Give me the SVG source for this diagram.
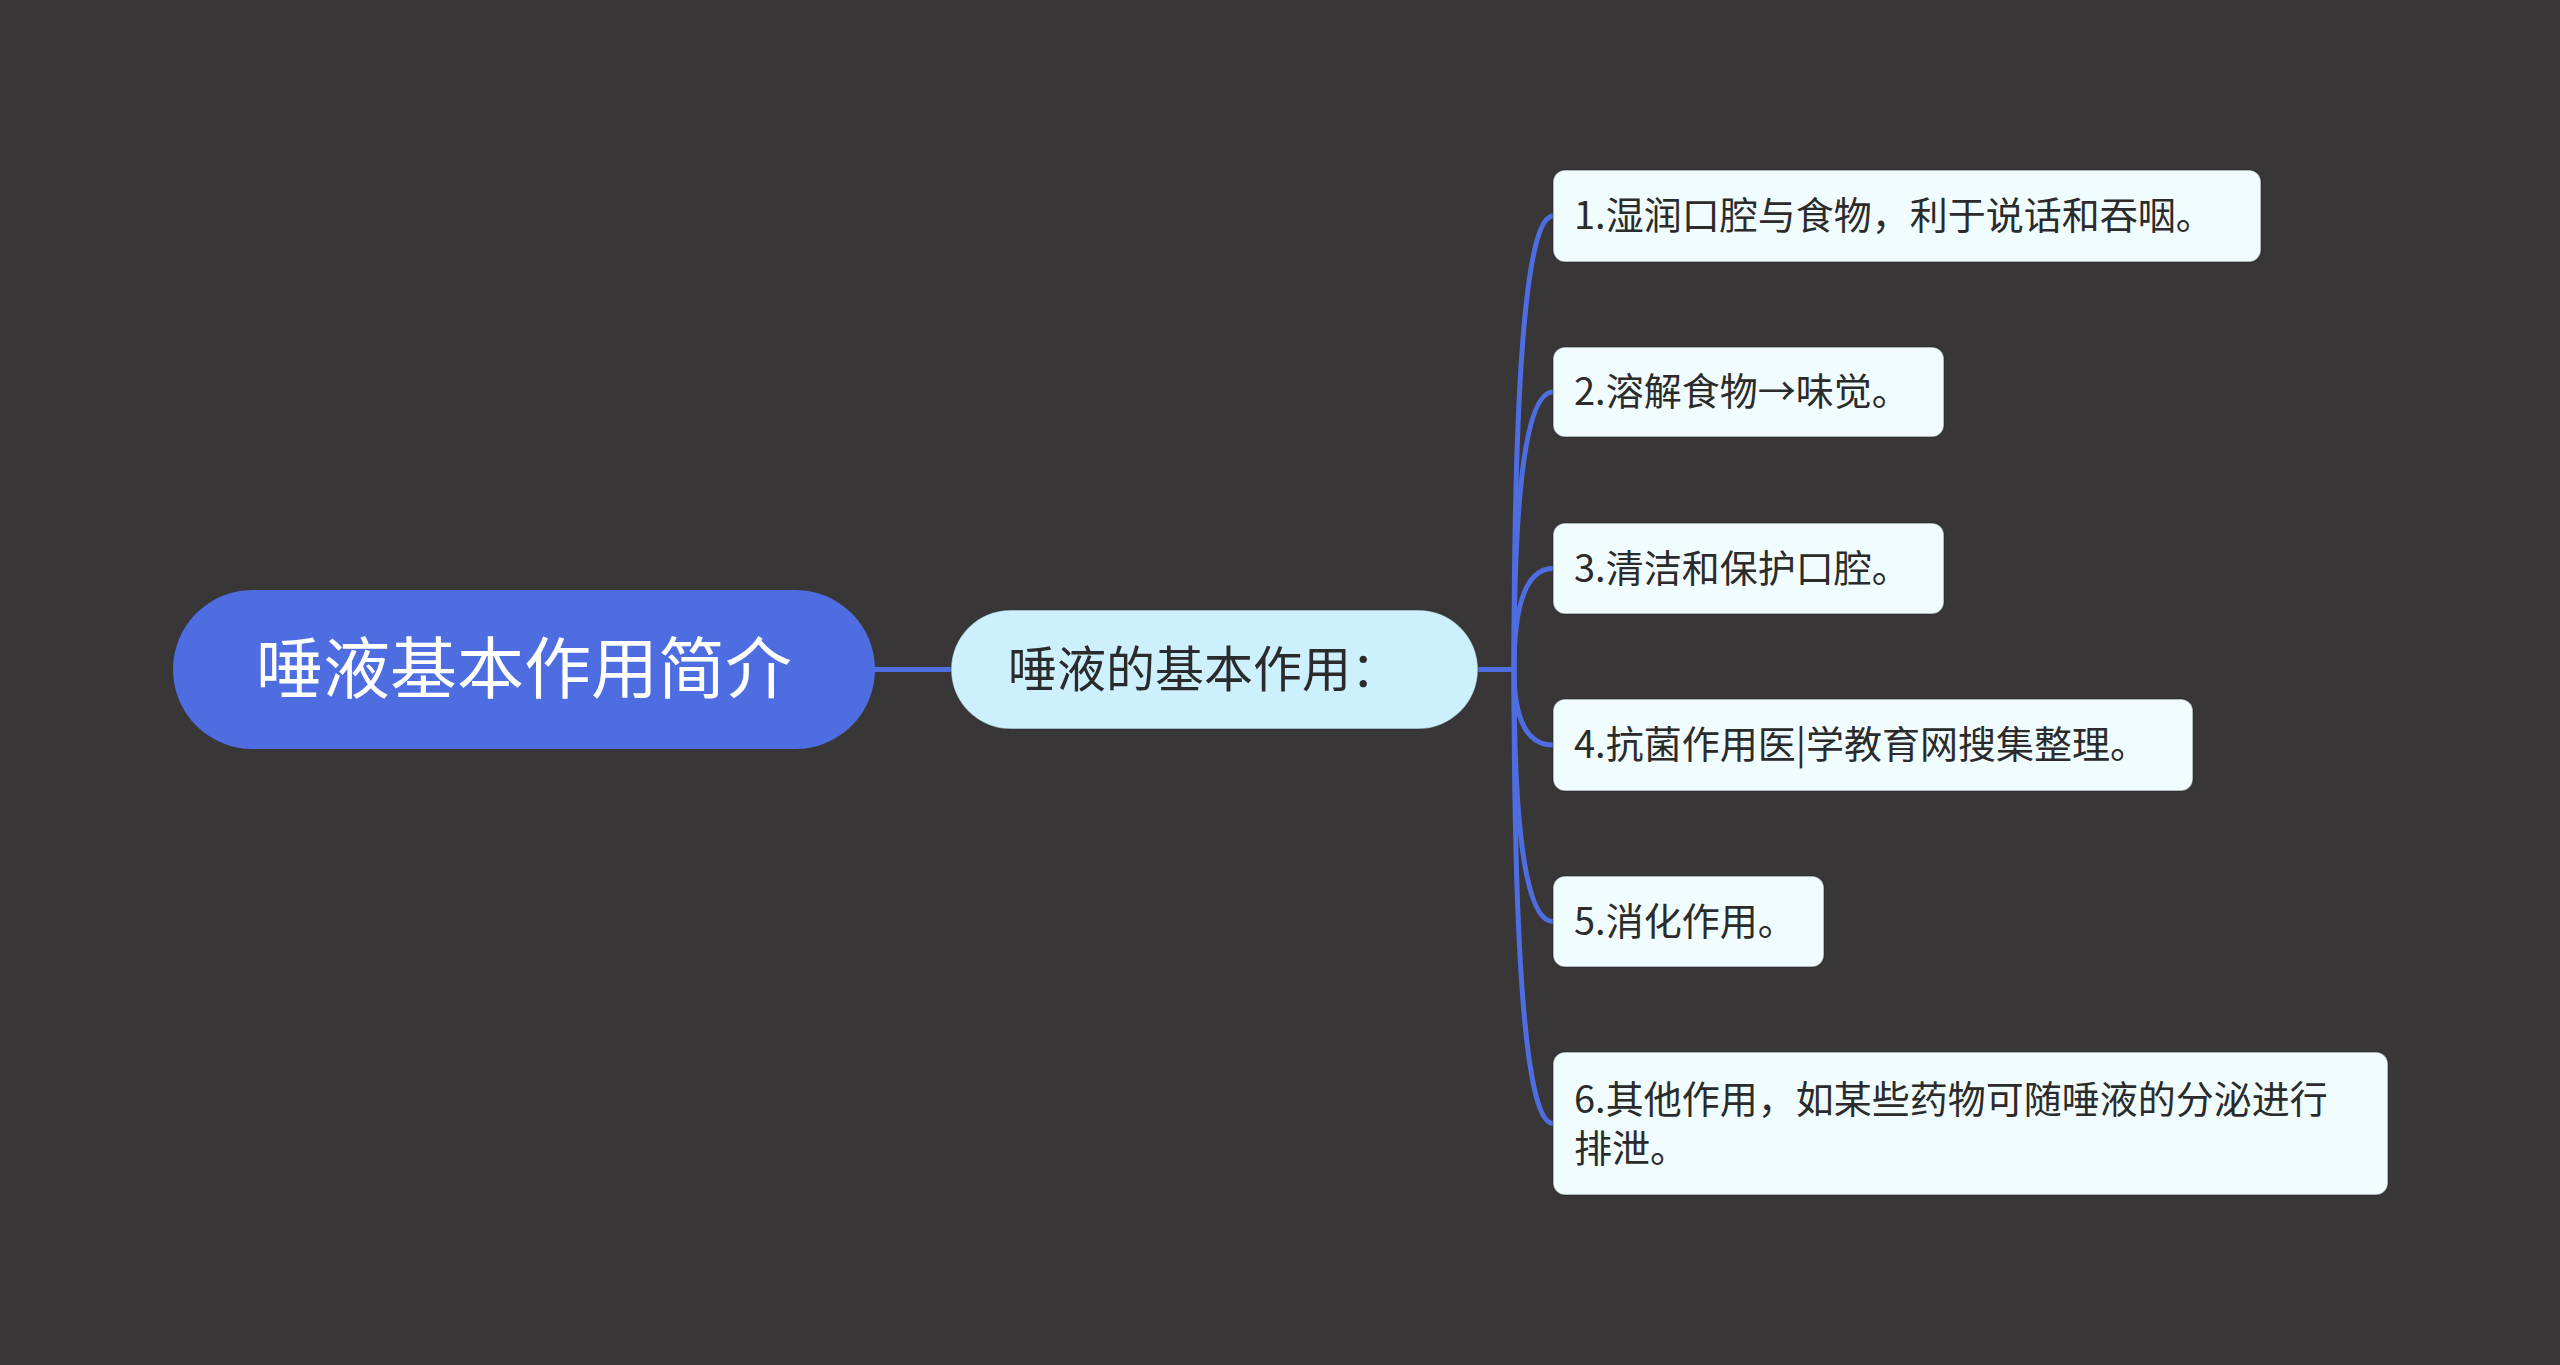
<svg xmlns="http://www.w3.org/2000/svg" width="2560" height="1365" viewBox="0 0 2560 1365">
<style>
.bg{fill:#383637}
.conn{fill:none;stroke:#4E6DE0;stroke-width:5;stroke-linecap:round}
.root{fill:#4D6DE0}
.roott{font-family:"Noto Sans CJK SC","Noto Sans",sans-serif;font-size:67px;fill:#FFFFFF}
.sub{fill:#CCF0FE;stroke:#2a2a2a;stroke-opacity:0.35;stroke-width:1.5}
.subt{font-family:"Noto Sans CJK SC","Noto Sans",sans-serif;font-size:49px;fill:#2B2B2B}
.leaf{fill:#F0FCFD;stroke:#1e1e1e;stroke-opacity:0.4;stroke-width:1.5}
.leaft{font-family:"Noto Sans CJK SC","Noto Sans",sans-serif;font-size:38px;fill:#2B2B2B}
</style>
<rect class="bg" x="0" y="0" width="2560" height="1365"/>
<g id="connectors">
<path class="conn" d="M875 669.5 H951"/>
<path class="conn" d="M1478 669.5 H1514"/>
<path class="conn" d="M1514 669.5 Q1514 216 1553 216"/>
<path class="conn" d="M1514 669.5 Q1514 392 1553 392"/>
<path class="conn" d="M1514 669.5 Q1514 568.5 1553 568.5"/>
<path class="conn" d="M1514 669.5 Q1514 745 1553 745"/>
<path class="conn" d="M1514 669.5 Q1514 921.5 1553 921.5"/>
<path class="conn" d="M1514 669.5 Q1514 1123.5 1553 1123.5"/>
</g>
<g id="root">
<rect class="root" x="173" y="590" width="702" height="159" rx="79.5"/>
<text class="roott" x="524" y="693" text-anchor="middle">唾液基本作用简介</text>
</g>
<g id="sub">
<rect class="sub" x="951" y="610" width="527" height="119" rx="59.5"/>
<text class="subt" x="1008" y="687">唾液的基本作用：</text>
</g>
<g id="n1">
<rect class="leaf" x="1553" y="170" width="708" height="92" rx="12"/>
<text class="leaft" x="1574" y="229">1.湿润口腔与食物，利于说话和吞咽。</text>
</g>
<g id="n2">
<rect class="leaf" x="1553" y="347" width="391" height="90" rx="12"/>
<text class="leaft" x="1574" y="405">2.溶解食物→味觉。</text>
</g>
<g id="n3">
<rect class="leaf" x="1553" y="523" width="391" height="91" rx="12"/>
<text class="leaft" x="1574" y="581.5">3.清洁和保护口腔。</text>
</g>
<g id="n4">
<rect class="leaf" x="1553" y="699" width="640" height="92" rx="12"/>
<text class="leaft" x="1574" y="758">4.抗菌作用医|学教育网搜集整理。</text>
</g>
<g id="n5">
<rect class="leaf" x="1553" y="876" width="271" height="91" rx="12"/>
<text class="leaft" x="1574" y="934.5">5.消化作用。</text>
</g>
<g id="n6">
<rect class="leaf" x="1553" y="1052" width="835" height="143" rx="12"/>
<text class="leaft"><tspan x="1574" y="1113">6.其他作用，如某些药物可随唾液的分泌进行</tspan><tspan x="1574" y="1162">排泄。</tspan></text>
</g>
</svg>
